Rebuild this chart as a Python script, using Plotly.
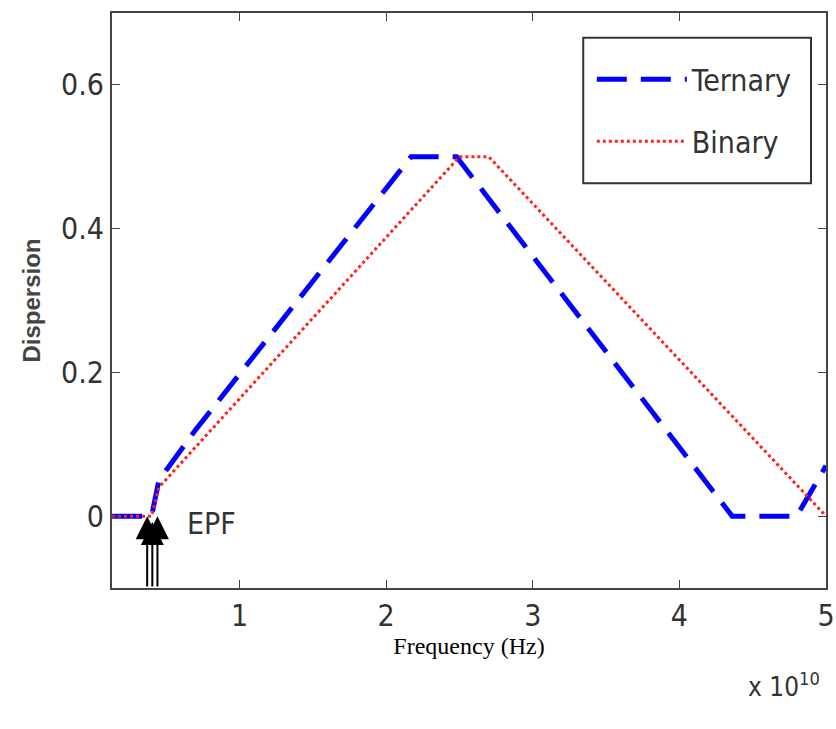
import plotly.graph_objects as go

# Data (frequency in Hz, dispersion dimensionless)
freq_ternary = [0.13e10, 0.40e10, 0.45e10, 0.70e10, 2.17e10, 2.48e10, 4.36e10, 4.80e10, 5.0e10]
disp_ternary = [0.0, 0.0, 0.05, 0.12, 0.50, 0.50, 0.0, 0.0, 0.07]

freq_binary = [0.13e10, 0.40e10, 0.45e10, 2.50e10, 2.70e10, 5.0e10]
disp_binary = [0.0, 0.0, 0.04, 0.50, 0.50, 0.0]

epf_freqs = [0.37e10, 0.405e10, 0.44e10]
epf_tips = [0.0, -0.008, 0.0]

x_tickvals = [1e10, 2e10, 3e10, 4e10, 5e10]
x_ticktext = ["1", "2", "3", "4", "5"]
y_tickvals = [0, 0.2, 0.4, 0.6]
y_ticktext = ["0", "0.2", "0.4", "0.6"]

narrow = "DejaVu Sans Condensed, Liberation Sans Narrow, Arial Narrow, Liberation Sans, sans-serif"

fig = go.Figure()
fig.add_trace(go.Scatter(x=freq_ternary, y=disp_ternary, mode="lines", name="Ternary",
                         legendgroup="t",
                         line=dict(color="#0000ff", width=5, dash="30px,14px")))
fig.add_trace(go.Scatter(x=freq_binary, y=disp_binary, mode="lines", name="Binary",
                         legendgroup="b",
                         line=dict(color="#ff2020", width=3, dash="dot")))

for fx, ft in zip(epf_freqs, epf_tips):
    fig.add_annotation(x=fx, y=ft, ax=fx, ay=-0.1, xref="x", yref="y", axref="x", ayref="y",
                       text="", showarrow=True, arrowhead=2, arrowsize=2.3, arrowwidth=2,
                       arrowcolor="black")
fig.add_annotation(x=0.63e10, y=-0.01, xref="x", yref="y", text="EPF", showarrow=False,
                   xanchor="left", font=dict(family=narrow, size=30, color="#333333"))
fig.add_annotation(x=0.995, y=-0.135, xref="paper", yref="paper", xanchor="right", yanchor="top",
                   text="x 10<sup>10</sup>", showarrow=False,
                   font=dict(family=narrow, size=26, color="#333333"))

# legend frame
fig.add_shape(type="rect", xref="paper", yref="paper", x0=0.660, x1=0.979, y0=0.704, y1=0.957,
              line=dict(color="#333333", width=2), fillcolor="rgba(0,0,0,0)", layer="above")

fig.update_layout(
    width=836, height=729,
    margin=dict(l=112, r=10, t=13, b=141, autoexpand=False),
    paper_bgcolor="white", plot_bgcolor="white",
    showlegend=True,
    legend=dict(x=0.672, y=0.93, xanchor="left", yanchor="top",
                borderwidth=0, bgcolor="rgba(0,0,0,0)",
                itemwidth=90, font=dict(family=narrow, size=30, color="#333333"),
                tracegroupgap=20),
    xaxis=dict(range=[0.13e10, 5e10], tickvals=x_tickvals, ticktext=x_ticktext,
               ticks="inside", ticklen=8, tickcolor="#444444", showgrid=False, zeroline=False,
               showline=True, linecolor="#444444", linewidth=2, mirror="ticks", automargin=False,
               tickfont=dict(family=narrow, size=30, color="#333333"),
               title=dict(text="Frequency (Hz)", standoff=0,
                          font=dict(family="Liberation Serif, Times New Roman, serif", size=24, color="black"))),
    yaxis=dict(range=[-0.1, 0.7], tickvals=y_tickvals, ticktext=y_ticktext,
               ticks="inside", ticklen=8, tickcolor="#444444", showgrid=False, zeroline=False,
               showline=True, linecolor="#444444", linewidth=2, mirror="ticks", automargin=False,
               tickfont=dict(family=narrow, size=30, color="#333333"),
               title=dict(text="<b>Dispersion</b>", standoff=14,
                          font=dict(family="Liberation Sans, Arial, sans-serif", size=24, color="#444444"))),
)

fig.write_html("out.html", config={"displayModeBar": False},
               post_script="document.body.style.margin='0px';")
